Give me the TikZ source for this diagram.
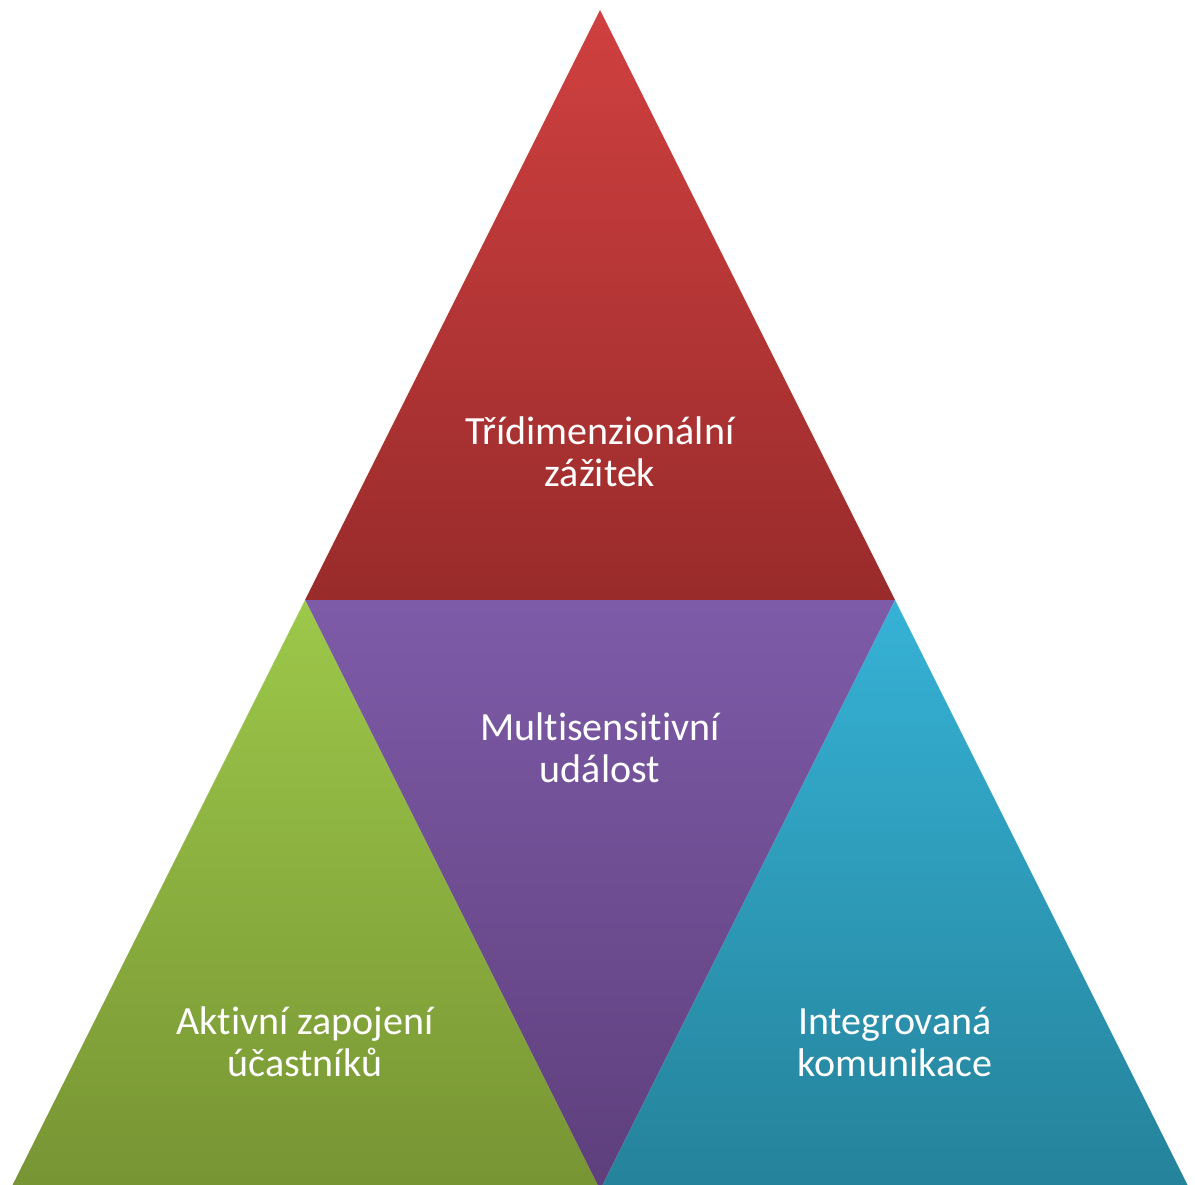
\documentclass[tikz,border=0pt]{standalone}
\usepackage{fontspec}
\setmainfont[Ligatures=NoCommon]{Carlito}
\definecolor{redtop}{HTML}{D04040}
\definecolor{redbot}{HTML}{992B2B}
\definecolor{purtop}{HTML}{7E5BA8}
\definecolor{purbot}{HTML}{5E3F7C}
\definecolor{grntop}{HTML}{9DC84A}
\definecolor{grnbot}{HTML}{779433}
\definecolor{blutop}{HTML}{36B2D6}
\definecolor{blubot}{HTML}{25829A}
\tikzset{
  label/.style={text=white, align=center, font=\fontsize{40}{42}\selectfont},
}
\begin{document}
\begin{tikzpicture}[x=1pt,y=-1pt]
\useasboundingbox (0,0) rectangle (1195,1185);
% corner points of the pyramid
\coordinate (apex) at (600,10);
\coordinate (ml) at (305,600);
\coordinate (mr) at (895,600);
\coordinate (bl) at (10,1190);
\coordinate (bm) at (600,1190);
\coordinate (br) at (1190,1190);
% four sub-triangles
\shade[top color=redtop, bottom color=redbot] (apex) -- (mr) -- (ml) -- cycle;
\shade[top color=purtop, bottom color=purbot] (ml) -- (mr) -- (bm) -- cycle;
\shade[top color=grntop, bottom color=grnbot] (ml) -- (bm) -- (bl) -- cycle;
\shade[top color=blutop, bottom color=blubot] (mr) -- (br) -- (bm) -- cycle;
% labels
\node[label] (t1) at (600,452) {Třídimenzionální\\zážitek};
\node[label] (t2) at (600,748) {Multisensitivní\\událost};
\node[label] (t3) at (305,1042) {Aktivní zapojení\\účastníků};
\node[label] (t4) at (895,1042) {Integrovaná\\komunikace};
\end{tikzpicture}
\end{document}
